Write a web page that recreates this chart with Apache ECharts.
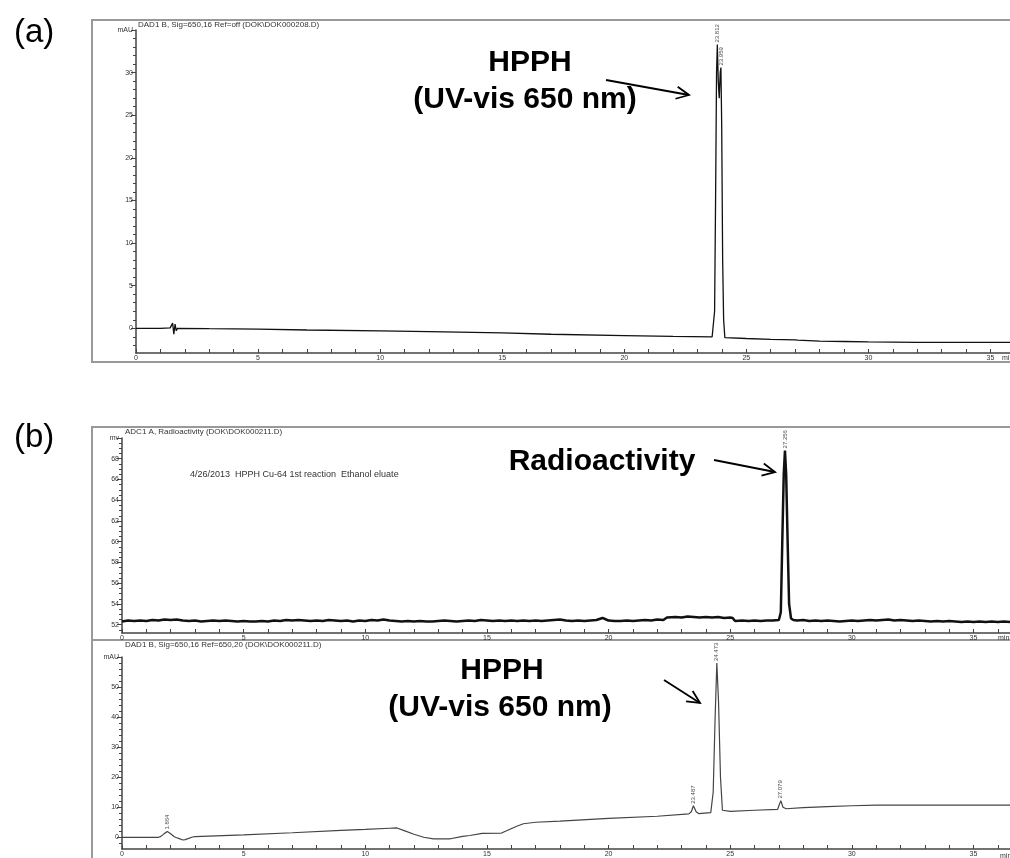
<!DOCTYPE html>
<html>
<head>
<meta charset="utf-8">
<title>HPPH chromatograms</title>
<script src="https://cdn.jsdelivr.net/npm/echarts@6/dist/echarts.min.js"></script>
<style>
  html, body { margin: 0; padding: 0; background: #fff; }
  #chart { width: 1010px; height: 858px; }
</style>
</head>
<body>
<div id="chart"></div>
<script>
// ---- panel (a): UV-vis 650 nm, DOK000208 ----
const aTrace = [
  [0, 0], [0.5, 0], [1.0, 0], [1.4, 0.05], [1.5, 0.6], [1.55, -0.7], [1.6, 0.5], [1.65, -0.3], [1.7, 0],
  [3, -0.05], [5, -0.1], [7, -0.2], [10, -0.3], [12, -0.4], [15, -0.55], [17, -0.7], [20, -0.85],
  [22, -0.95], [23.6, -1.0], [23.7, 2], [23.74, 15], [23.78, 30], [23.812, 33.3], [23.85, 29],
  [23.89, 27], [23.93, 30], [23.959, 30.6], [23.99, 24], [24.03, 8], [24.07, 1], [24.12, -1.1],
  [25, -1.2], [26, -1.3], [27, -1.35], [27.05, -1.2], [27.1, -1.4], [28, -1.5], [29, -1.55],
  [30, -1.6], [32, -1.65], [35.8, -1.65]
]
const aPeakT = [23.812, 23.959]
const aPeakY = [33.3, 30.6]
const aPeakNames = ['23.812', '23.959']
const aYTicks = [0, 5, 10, 15, 20, 25, 30, 35]
const aYLabels = ['0', '5', '10', '15', '20', '25', '30', 'mAU']

// ---- panel (b) top: radioactivity, DOK000211 ----
const radioTrace = [
  [0, 52.3], [0.25, 52.4], [0.5, 52.35], [0.75, 52.4], [1, 52.35], [1.25, 52.45], [1.5, 52.4], [1.75, 52.5],
  [2, 52.45], [2.25, 52.5], [2.5, 52.4], [2.75, 52.35], [3, 52.4], [3.25, 52.3], [3.5, 52.35], [3.75, 52.4],
  [4, 52.35], [4.25, 52.4], [4.5, 52.35], [4.75, 52.3], [5, 52.35], [5.25, 52.3], [5.5, 52.3], [5.75, 52.35],
  [6, 52.3], [6.25, 52.4], [6.5, 52.35], [6.75, 52.45], [7, 52.4], [7.25, 52.45], [7.5, 52.4], [7.75, 52.35],
  [8, 52.4], [8.25, 52.35], [8.5, 52.45], [8.75, 52.4], [9, 52.35], [9.25, 52.4], [9.5, 52.3], [9.75, 52.4],
  [10, 52.35], [10.25, 52.45], [10.5, 52.4], [10.75, 52.5], [11, 52.4], [11.25, 52.35], [11.5, 52.3], [11.75, 52.35],
  [12, 52.3], [12.25, 52.35], [12.5, 52.3], [12.75, 52.3], [13, 52.35], [13.25, 52.4], [13.5, 52.35], [13.75, 52.3],
  [14, 52.35], [14.25, 52.4], [14.5, 52.35], [14.75, 52.45], [15, 52.4], [15.25, 52.35], [15.5, 52.4], [15.75, 52.35],
  [16, 52.4], [16.25, 52.35], [16.5, 52.4], [16.75, 52.35], [17, 52.4], [17.25, 52.35], [17.5, 52.4], [17.75, 52.45],
  [18, 52.5], [18.25, 52.4], [18.5, 52.35], [18.75, 52.4], [19, 52.35], [19.25, 52.4], [19.5, 52.45], [19.75, 52.65],
  [19.9, 52.5], [20, 52.4], [20.25, 52.35], [20.5, 52.35], [20.75, 52.4], [21, 52.35], [21.25, 52.4], [21.5, 52.45],
  [21.75, 52.4], [22, 52.5], [22.25, 52.45], [22.4, 52.7], [22.75, 52.75], [23, 52.7], [23.25, 52.8], [23.5, 52.75],
  [23.75, 52.7], [24, 52.75], [24.25, 52.7], [24.5, 52.75], [24.75, 52.65], [25, 52.7], [25.1, 52.65], [25.2, 52.35],
  [25.5, 52.4], [25.75, 52.35], [26, 52.4], [26.25, 52.35], [26.5, 52.4], [26.75, 52.4], [27, 52.45], [27.08, 53.2],
  [27.14, 60], [27.2, 66.5], [27.25, 68.8], [27.3, 66.5], [27.36, 60], [27.42, 54], [27.5, 52.6], [27.6, 52.45],
  [27.75, 52.4], [28, 52.45], [28.25, 52.35], [28.5, 52.4], [28.75, 52.35], [29, 52.4], [29.25, 52.35], [29.5, 52.3],
  [29.75, 52.35], [30, 52.4], [30.25, 52.35], [30.5, 52.4], [30.75, 52.45], [31, 52.4], [31.25, 52.45], [31.5, 52.5],
  [31.75, 52.4], [32, 52.45], [32.25, 52.4], [32.5, 52.35], [32.75, 52.4], [33, 52.35], [33.25, 52.3], [33.5, 52.35],
  [33.75, 52.3], [34, 52.35], [34.25, 52.3], [34.5, 52.25], [34.75, 52.3], [35, 52.25], [35.25, 52.3], [35.5, 52.25],
  [35.75, 52.3], [36, 52.25], [36.25, 52.3], [36.5, 52.25]
]
const radioPeakT = [27.25]
const radioPeakY = [68.8]
const radioPeakNames = ['27.256']
const rYTicks = [52, 54, 56, 58, 60, 62, 64, 66, 68, 70]
const rYLabels = ['52', '54', '56', '58', '60', '62', '64', '66', '68', 'mv']

// ---- panel (b) bottom: UV-vis 650 nm, DOK000211 ----
const uvTrace = [
  [0, 0], [1.5, 0], [1.6, 0.3], [1.75, 1.3], [1.864, 1.9], [2.0, 1.2], [2.15, 0.2], [2.3, -0.3], [2.5, -0.9],
  [2.6, -0.8], [2.9, 0.1], [3, 0.2], [5, 0.8], [7, 1.5], [9, 2.3], [10, 2.6], [11, 3.0], [11.3, 3.1],
  [11.6, 2.2], [12, 1.0], [12.4, 0], [12.8, -0.5], [13.5, -0.5], [14, 0.3], [14.3, 0.6], [14.8, 1.3],
  [15.6, 1.4], [15.9, 2.5], [16.2, 3.6], [16.5, 4.5], [17, 5.0], [18, 5.4], [20, 6.3], [22, 7.0],
  [23.3, 7.8], [23.4, 8.5], [23.487, 10.5], [23.6, 8.5], [23.7, 7.9], [24.2, 8.2], [24.3, 15], [24.38, 40],
  [24.45, 58], [24.52, 45], [24.6, 20], [24.68, 9], [24.75, 8.4], [25, 8.6], [26, 9], [26.95, 9.3],
  [27.0, 10.5], [27.079, 12.2], [27.17, 10], [27.3, 9.5], [28, 9.9], [29, 10.2], [30, 10.5], [31, 10.7],
  [33, 10.7], [36.5, 10.7]
]
const uvPeakT = [1.864, 23.487, 24.45, 27.079]
const uvPeakY = [1.9, 10.5, 58, 12.2]
const uvPeakNames = ['1.864', '23.487', '24.473', '27.079']
const uYTicks = [0, 10, 20, 30, 40, 50, 60]
const uYLabels = ['0', '10', '20', '30', '40', '50', 'mAU']

const xTicks = [0, 5, 10, 15, 20, 25, 30, 35]

const chart = echarts.init(document.getElementById('chart'))
const FONT = 'Liberation Sans, Arial, sans-serif'

function intsBetween(lo, hi, step) {
  const out = []
  for (let v = Math.ceil(lo / step) * step; v <= hi + 1e-9; v += step) out.push(+v.toFixed(3))
  return out
}

function xAxisFor(gridIndex, max) {
  return {
    type: 'value', gridIndex, min: 0, max,
    axisLine: { onZero: false, lineStyle: { color: '#444', width: 1.5 } },
    axisTick: { inside: true, length: 4, customValues: intsBetween(0, max, 1), lineStyle: { color: '#444' } },
    axisLabel: { customValues: xTicks, fontSize: 7, color: '#333', fontFamily: FONT, margin: 2 },
    splitLine: { show: false }
  }
}

function yAxesFor(gridIndex, min, max, ticks, labels, minorStep) {
  return [
    {
      type: 'value', gridIndex, min, max, position: 'left',
      axisLine: { show: true, onZero: false, lineStyle: { color: '#444', width: 1.5 } },
      axisTick: { show: true, length: 5, customValues: ticks, lineStyle: { color: '#444' } },
      axisLabel: {
        customValues: ticks, fontSize: 7, color: '#333', fontFamily: FONT, margin: 3,
        formatter: v => labels[ticks.indexOf(v)] ?? ''
      },
      splitLine: { show: false }
    },
    {
      type: 'value', gridIndex, min, max, position: 'left',
      axisLine: { show: false, onZero: false },
      axisTick: { show: true, length: 3, customValues: intsBetween(min, max, minorStep), lineStyle: { color: '#444' } },
      axisLabel: { show: false },
      splitLine: { show: false }
    }
  ]
}

function traceSeries(xi, yi, data, width, color) {
  return {
    type: 'line', xAxisIndex: xi, yAxisIndex: yi, data,
    symbol: 'none', lineStyle: { color, width }, silent: true
  }
}

function peakLabels(xi, yi, t, y, names) {
  return {
    type: 'scatter', xAxisIndex: xi, yAxisIndex: yi, symbolSize: 0, silent: true,
    data: t.map((v, i) => [v, y[i]]),
    label: {
      show: true, position: 'top', distance: 2, rotate: 90, align: 'left', verticalAlign: 'middle',
      fontSize: 6, color: '#111', fontFamily: FONT,
      formatter: p => names[p.dataIndex]
    }
  }
}

// open V arrow, drawn as annotation
function arrow(x1, y1, x2, y2) {
  const a = Math.atan2(y2 - y1, x2 - x1)
  const L = 14, s = 0.45
  return {
    type: 'group', silent: true,
    children: [
      { type: 'line', shape: { x1, y1, x2, y2 }, style: { stroke: '#000', lineWidth: 1.8 } },
      { type: 'polyline', shape: { points: [
        [x2 - L * Math.cos(a - s), y2 - L * Math.sin(a - s)], [x2, y2],
        [x2 - L * Math.cos(a + s), y2 - L * Math.sin(a + s)]
      ] }, style: { stroke: '#000', lineWidth: 1.8, fill: null } }
    ]
  }
}

function txt(x, y, text, size, opts) {
  return {
    type: 'text', x, y, silent: true,
    style: Object.assign({ text, fontSize: size, fontFamily: FONT, fill: '#000' }, opts || {})
  }
}

const bold = { fontWeight: 'bold', align: 'center', verticalAlign: 'middle' }

const aY = yAxesFor(0, -2.9, 35, aYTicks, aYLabels, 1)
const rY = yAxesFor(1, 51.2, 70, rYTicks, rYLabels, 0.5)
const uY = yAxesFor(2, -3.9, 60, uYTicks, uYLabels, 2)

chart.setOption({
  animation: false,
  backgroundColor: '#fff',
  grid: [
    { left: 136, top: 30, width: 874, height: 323 },
    { left: 122, top: 438, width: 888, height: 195 },
    { left: 122, top: 657, width: 888, height: 194 }
  ],
  xAxis: [xAxisFor(0, 35.8), xAxisFor(1, 36.5), xAxisFor(2, 36.5)],
  yAxis: [...aY, ...rY, ...uY],
  series: [
    traceSeries(0, 0, aTrace, 1.3, '#111'),
    peakLabels(0, 0, aPeakT, aPeakY, aPeakNames),
    traceSeries(1, 2, radioTrace, 2.5, '#111'),
    peakLabels(1, 2, radioPeakT, radioPeakY, radioPeakNames),
    traceSeries(2, 4, uvTrace, 1.2, '#444'),
    peakLabels(2, 4, uvPeakT, uvPeakY, uvPeakNames)
  ],
  graphic: [
    // panel frames
    { type: 'polyline', silent: true, shape: { points: [[1012, 20], [92, 20], [92, 362], [1012, 362]] },
      style: { stroke: '#999', lineWidth: 2, fill: null } },
    { type: 'polyline', silent: true, shape: { points: [[1012, 427], [92, 427], [92, 860]] },
      style: { stroke: '#999', lineWidth: 2, fill: null } },
    { type: 'line', silent: true, shape: { x1: 92, y1: 640, x2: 1012, y2: 640 },
      style: { stroke: '#999', lineWidth: 2 } },
    // panel letters
    txt(14, 16, '(a)', 33),
    txt(14, 421, '(b)', 33),
    // instrument headers
    txt(138, 21, 'DAD1 B, Sig=650,16 Ref=off (DOK\\DOK000208.D)', 8, { fill: '#333' }),
    txt(125, 428, 'ADC1 A, Radioactivity (DOK\\DOK000211.D)', 8, { fill: '#333' }),
    txt(190, 470, '4/26/2013  HPPH Cu-64 1st reaction  Ethanol eluate', 9, { fill: '#333' }),
    txt(125, 641, 'DAD1 B, Sig=650,16 Ref=650,20 (DOK\\DOK000211.D)', 8, { fill: '#333' }),
    txt(1002, 355, 'min', 7, { fill: '#333' }),
    txt(998, 635, 'min', 7, { fill: '#333' }),
    txt(1000, 853, 'min', 7, { fill: '#333' }),
    // annotations
    txt(530, 63, 'HPPH', 30, bold),
    txt(525, 100, '(UV-vis 650 nm)', 30, bold),
    arrow(606, 80, 689, 95),
    txt(602, 462, 'Radioactivity', 30, bold),
    arrow(714, 460, 775, 472),
    txt(502, 671, 'HPPH', 30, bold),
    txt(500, 708, '(UV-vis 650 nm)', 30, bold),
    arrow(664, 680, 700, 703)
  ]
})
</script>
</body>
</html>
